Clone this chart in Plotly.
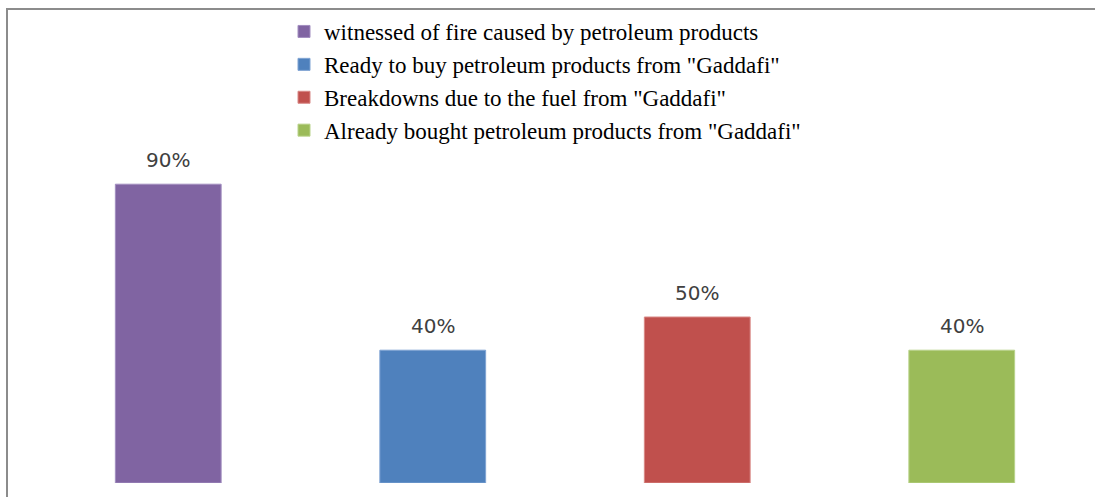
import plotly.graph_objects as go

categories = [
    "witnessed of fire caused by petroleum products",
    'Ready to buy petroleum products from "Gaddafi"',
    'Breakdowns due to the fuel from "Gaddafi"',
    'Already bought petroleum products from "Gaddafi"',
]
values = [90, 40, 50, 40]
labels = ["90%", "40%", "50%", "40%"]
colors = ["#8064A2", "#4F81BD", "#C0504D", "#9BBB59"]
edge_colors = ["#A28EC0", "#7FA3D3", "#D88886", "#B9D38B"]

W, H = 1095, 497
ML, MR, MT, MB = 36, 1, 151, 14
plot_w = W - ML - MR
plot_h = H - MT - MB

fig = go.Figure()
for i, (cat, val, col, ec) in enumerate(zip(categories, values, colors, edge_colors)):
    fig.add_trace(go.Bar(
        x=[i], y=[val], name=cat, width=0.4,
        marker=dict(color=col, line=dict(color=ec, width=1)),
        legendgroup=f"g{i}",
        hoverinfo="skip",
    ))
    fig.add_annotation(
        x=i, y=val, text=labels[i], showarrow=False,
        yanchor="bottom", yshift=10,
        font=dict(family="DejaVu Sans", size=20, color="#404040"),
    )

# outer chart border (left and top visible)
fig.add_shape(
    type="rect", xref="paper", yref="paper",
    x0=(7 - ML) / plot_w, x1=1.2,
    y0=-0.3, y1=1 + (MT - 9) / plot_h,
    line=dict(color="#8C8C8C", width=2),
    fillcolor="rgba(0,0,0,0)", layer="above",
)

fig.update_layout(
    width=W, height=H,
    margin=dict(l=ML, r=MR, t=MT, b=MB),
    paper_bgcolor="white", plot_bgcolor="white",
    barmode="overlay",
    showlegend=True,
    legend=dict(
        x=(284 - ML) / plot_w, xanchor="left",
        y=1 + (MT - 10) / plot_h, yanchor="top",
        font=dict(family="Liberation Serif, Times New Roman, serif", size=23, color="#000000"),
        traceorder="grouped", tracegroupgap=0,
        bgcolor="rgba(0,0,0,0)",
    ),
    xaxis=dict(range=[-0.5, 3.5], showticklabels=False, showgrid=False,
               zeroline=False, showline=False, ticks=""),
    yaxis=dict(range=[0, 100], showticklabels=False, showgrid=False,
               zeroline=False, showline=False, ticks=""),
)

fig.write_html("out.html")
